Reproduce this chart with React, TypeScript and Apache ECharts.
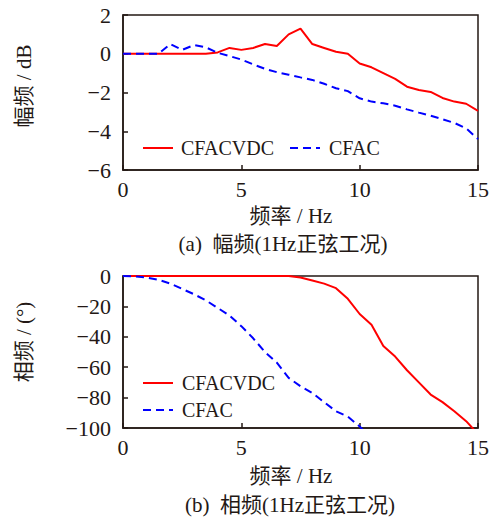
import React, { useEffect, useRef } from "react";
import * as echarts from "echarts";

const freq = [0, 0.5, 1, 1.5, 2, 2.5, 3, 3.5, 4, 4.5, 5, 5.5, 6, 6.5, 7, 7.5, 8, 8.5, 9, 9.5, 10, 10.5, 11, 11.5, 12, 12.5, 13, 13.5, 14, 14.5, 15];
const magCFACVDC = [0, 0, 0, 0, 0, 0, 0, 0, 0.07, 0.3, 0.2, 0.3, 0.5, 0.4, 1.0, 1.3, 0.5, 0.3, 0.1, 0.0, -0.5, -0.7, -1.0, -1.3, -1.7, -1.87, -1.97, -2.28, -2.47, -2.58, -2.95];
const magCFAC = [0, 0, 0, 0, 0.5, 0.2, 0.45, 0.33, 0.05, -0.12, -0.3, -0.55, -0.78, -0.95, -1.08, -1.22, -1.35, -1.55, -1.78, -1.93, -2.3, -2.47, -2.56, -2.68, -2.87, -3.04, -3.2, -3.38, -3.57, -3.85, -4.4];
const phaseCFACVDC = [0, 0, 0, 0, 0, 0, 0, 0, 0, 0, 0, 0, 0, 0, 0, -1, -3, -5, -8, -15, -25, -32, -46, -53, -62, -70, -78, -83, -89, -95.5, -104];
const phaseCFAC = [0, -0.3, -1, -2.5, -5, -8.5, -12, -16, -21, -26, -33, -41, -50, -57, -67, -72.5, -77, -83, -89, -92.5, -99, -107];

const xTicks = { min: 0, max: 15, interval: 5 };
const magTicks = { min: -6, max: 2, interval: 2 };
const phaseTicks = { min: -100, max: 0, interval: 20 };

const INK = "#231815";
const SERIF = "Liberation Serif";
const CJK = "Liberation Serif, Noto Sans CJK SC";

const pairs = (ys: number[]) => ys.map((y, i) => [freq[i], y]);
const minus = (v: number) => String(v).replace("-", "\u2212");

export default function App() {
  const ref = useRef<HTMLDivElement>(null);
  useEffect(() => {
    if (!ref.current) return;
    const chart = echarts.init(ref.current, null, { renderer: "svg" });
    const axisCommon = {
      axisLine: { show: true, onZero: false, lineStyle: { color: INK, width: 1.5 } },
      axisTick: { show: true, inside: true, length: 5, lineStyle: { color: INK, width: 1.5 } },
      splitLine: { show: false },
      axisLabel: { color: INK, fontSize: 22, fontFamily: SERIF, formatter: minus },
    };
    const grid = (top: number, height: number) => ({
      left: 123, top, width: 355, height,
      show: true, borderColor: INK, borderWidth: 1.5, backgroundColor: "transparent",
    });
    const textEl = (text: string, x: number, y: number, rot = 0, align = "center", size = 20) => ({
      type: "text", x, y, rotation: rot,
      style: { text, fill: INK, fontSize: size, fontFamily: CJK, textAlign: align, textVerticalAlign: "middle" },
    });
    const legendLine = (x: number, y: number, color: string, dash?: number[]) => ({
      type: "line", shape: { x1: x, y1: y, x2: x + 30, y2: y },
      style: { stroke: color, lineWidth: 2, lineDash: dash },
    });
    const red = { color: "#ff0000", width: 2 };
    const blue = { color: "#0000ff", width: 2, type: [8, 5] };
    chart.setOption({
      animation: false,
      grid: [grid(15, 155), grid(276, 152)],
      xAxis: [
        { type: "value", gridIndex: 0, ...xTicks, ...axisCommon, axisLabel: { ...axisCommon.axisLabel, margin: 8 } },
        { type: "value", gridIndex: 1, ...xTicks, ...axisCommon, axisLabel: { ...axisCommon.axisLabel, margin: 8 } },
      ],
      yAxis: [
        { type: "value", gridIndex: 0, ...magTicks, ...axisCommon, axisLabel: { ...axisCommon.axisLabel, margin: 12 } },
        { type: "value", gridIndex: 1, ...phaseTicks, ...axisCommon, axisLabel: { ...axisCommon.axisLabel, margin: 12 } },
      ],
      graphic: [
        textEl("幅频 / dB", 24, 86, Math.PI / 2, "center", 21),
        textEl("频率 / Hz", 291, 216, 0, "center", 21),
        textEl("(a)  幅频(1Hz正弦工况)", 283, 244, 0, "center", 21),
        textEl("相频 / (°)", 24, 342, Math.PI / 2, "center", 21),
        textEl("频率 / Hz", 291, 476, 0, "center", 21),
        textEl("(b)  相频(1Hz正弦工况)", 290, 505, 0, "center", 21),
        // top legend
        legendLine(143, 148, red.color),
        textEl("CFACVDC", 181, 148, 0, "left"),
        legendLine(290, 148, blue.color, [8, 5]),
        textEl("CFAC", 329, 148, 0, "left"),
        // bottom legend
        legendLine(143, 383, red.color),
        textEl("CFACVDC", 182, 383, 0, "left"),
        legendLine(143, 410, blue.color, [8, 5]),
        textEl("CFAC", 182, 410, 0, "left"),
      ],
      series: [
        { name: "CFACVDC", type: "line", xAxisIndex: 0, yAxisIndex: 0, data: pairs(magCFACVDC), showSymbol: false, symbol: "none", lineStyle: red, clip: true },
        { name: "CFAC", type: "line", xAxisIndex: 0, yAxisIndex: 0, data: pairs(magCFAC), showSymbol: false, symbol: "none", lineStyle: blue, clip: true },
        { name: "CFACVDC (phase)", type: "line", xAxisIndex: 1, yAxisIndex: 1, data: pairs(phaseCFACVDC), showSymbol: false, symbol: "none", lineStyle: red, clip: true },
        { name: "CFAC (phase)", type: "line", xAxisIndex: 1, yAxisIndex: 1, data: pairs(phaseCFAC), showSymbol: false, symbol: "none", lineStyle: blue, clip: true },
      ],
    });
    return () => chart.dispose();
  }, []);
  return <div ref={ref} style={{ position: "absolute", left: 0, top: 0, width: 494, height: 520 }} />;
}
